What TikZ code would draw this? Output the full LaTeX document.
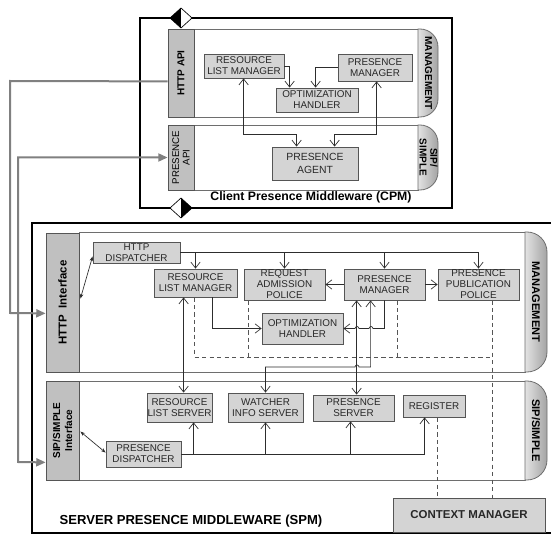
\documentclass[tikz,border=0pt]{standalone}
\usepackage{fontspec}
\setmainfont{Liberation Sans}
\usetikzlibrary{fit,calc,arrows.meta}
\definecolor{boxfill}{RGB}{212,212,212}
\definecolor{boxline}{RGB}{85,85,85}
\definecolor{barfill}{RGB}{192,192,192}
\definecolor{panelline}{RGB}{110,110,110}
\definecolor{lncol}{RGB}{45,45,45}
\definecolor{dashcol}{RGB}{85,85,85}
\definecolor{garrcol}{RGB}{128,128,128}
\definecolor{txt}{RGB}{40,40,40}
\newcommand{\mybox}[5][]{\node[box,fit={(#3) (#4)}] (#2) {};
  \node[btext,#1] (#2t) at (#2.center) {#5};}
\begin{document}
\begin{tikzpicture}[x=0.75pt,y=-0.75pt,
  box/.style={draw=boxline, fill=boxfill, inner sep=0pt, line width=0.6pt},
  btext/.style={inner sep=0pt, align=center, text=txt, font=\fontsize{7.4}{8.3}\selectfont},
  bar/.style={draw=boxline, fill=barfill, inner sep=0pt, line width=0.6pt},
  panel/.style={draw=panelline, fill=white, inner sep=0pt, line width=0.6pt},
  endcap/.style={draw=panelline, line width=0.6pt, left color=gray!22, right color=gray!72},
  frame/.style={draw=black, line width=2pt},
  conn/.style={draw=lncol, line width=0.5pt},
  arr/.style={conn, -{Straight Barb[length=4.5pt,width=7pt]}},
  darr/.style={conn, {Straight Barb[length=4.5pt,width=7pt]}-{Straight Barb[length=4.5pt,width=7pt]}},
  sarr/.style={conn, {Stealth[length=3.5pt,width=2.6pt]}-{Stealth[length=3.5pt,width=2.6pt]}},
  dsh/.style={draw=dashcol, line width=0.6pt, dash pattern=on 3.2pt off 2.4pt},
  garr/.style={draw=garrcol, line width=1.5pt, -{Triangle[length=7pt,width=6pt]}},
  gdarr/.style={draw=garrcol, line width=1.5pt, {Triangle[length=7pt,width=6pt]}-{Triangle[length=7pt,width=6pt]}},
  captxt/.style={inner sep=0pt, align=center, text=black, font=\bfseries\fontsize{7.5}{8}\selectfont},
]
\useasboundingbox (0,0) rectangle (551,535);

% ---------------- CPM ----------------
\node[frame, fit={(140,18) (452,208)}, inner sep=0pt] (cpm) {};
\node[font=\bfseries\fontsize{9.2}{10}\selectfont] (cpmtitle) at (311,197) {Client Presence Middleware (CPM)};

\node[panel, fit={(194,29) (418,117)}] (cpmmgmt) {};
\path[endcap] (418,29) -- (420,29) arc[start angle=90,end angle=0,radius=13.5pt] -- (438,99)
  arc[start angle=0,end angle=-90,radius=13.5pt] -- (418,117) -- cycle;
\node[captxt, rotate=-90] (cpmmgmtlbl) at (428.5,73) {MANAGEMENT};
\node[bar, fit={(168,29) (194,117)}] (httpapi) {};
\node[captxt, rotate=90] (httpapilbl) at (httpapi.center) {HTTP API};

\node[panel, fit={(194,125) (418,190)}] (cpmsip) {};
\path[endcap] (418,125) -- (420,125) arc[start angle=90,end angle=0,radius=13.5pt] -- (438,172)
  arc[start angle=0,end angle=-90,radius=13.5pt] -- (418,190) -- cycle;
\node[captxt, rotate=-90] (cpmsiplbl) at (428.5,157.5) {SIP/\\SIMPLE};
\node[bar, fit={(168,125) (194,190)}] (presapi) {};
\node[inner sep=0pt, align=center, text=black, font=\fontsize{7.3}{8}\selectfont, rotate=90] (presapilbl) at (presapi.center) {PRESENCE\\API};

\mybox{crlm}{204,54}{284,78}{RESOURCE\\LIST MANAGER}
\mybox{cpmm}{338,54}{412,81}{PRESENCE\\MANAGER}
\mybox{coh}{276,88}{358,112}{OPTIMIZATION\\HANDLER}
\mybox[font=\fontsize{7.8}{9.5}\selectfont]{cpa}{272,147}{358,180}{PRESENCE\\AGENT}

\draw[arr] (crlm.east) -| ($(coh.north west)+(14,0)$);
\draw[arr] (cpmm.west) -| ($(coh.north west)+(40,0)$);
\draw[darr] ($(cpa.north west)+(25,0)$) -- ++(0,-12) -| ($(crlm.south west)+(40,0)$);
\draw[darr] ($(cpa.north west)+(63,0)$) -- ++(0,-12) -| ($(cpmm.south west)+(39,0)$);

% diamonds
\fill[black] (170,18) -- (181,8) -- (181,28) -- cycle;
\fill[white] (181,8) -- (192,18) -- (181,28) -- cycle;
\draw[line width=0.5pt] (170,18) -- (181,8) -- (192,18) -- (181,28) -- cycle;
\fill[white] (170,208) -- (181,198) -- (181,218) -- cycle;
\fill[black] (181,198) -- (192,208) -- (181,218) -- cycle;
\draw[line width=0.5pt] (170,208) -- (181,198) -- (192,208) -- (181,218) -- cycle;

% ---------------- SPM ----------------
\draw[frame] (555,223) -- (32,223) -- (32,533) -- (555,533);
\node[font=\bfseries\fontsize{9.8}{10}\selectfont] (spmtitle) at (191,521) {SERVER PRESENCE MIDDLEWARE (SPM)};

\node[panel, fit={(79,232) (525,372)}] (spmmgmt) {};
\path[endcap] (525,232) -- (527,232) arc[start angle=90,end angle=0,radius=15pt] -- (547,352)
  arc[start angle=0,end angle=-90,radius=15pt] -- (525,372) -- cycle;
\node[captxt, font=\bfseries\fontsize{8.3}{9}\selectfont, rotate=-90] (spmmgmtlbl) at (536,302) {MANAGEMENT};
\node[bar, fit={(46,233) (79,372)}] (httpif) {};
\node[captxt, font=\bfseries\fontsize{8.6}{9}\selectfont, rotate=90] (httpiflbl) at (httpif.center) {HTTP\ \ Interface};

\node[panel, fit={(79,381) (525,480)}] (spmsip) {};
\path[endcap] (525,381) -- (527,381) arc[start angle=90,end angle=0,radius=15pt] -- (547,460)
  arc[start angle=0,end angle=-90,radius=15pt] -- (525,480) -- cycle;
\node[captxt, font=\bfseries\fontsize{8.3}{9}\selectfont, rotate=-90] (spmsiplbl) at (536,430.5) {SIP/SIMPLE};
\node[bar, fit={(46,381) (79,480)}] (sipif) {};
\node[captxt, font=\bfseries\fontsize{7.5}{9}\selectfont, rotate=90] (sipiflbl) at (sipif.center) {SIP/SIMPLE\\Interface};

\mybox{hd}{93,242}{180,263}{HTTP\\DISPATCHER}
\mybox{srlm}{154,269}{237,297}{RESOURCE\\LIST MANAGER}
\mybox{rap}{244,269}{325,300}{REQUEST\\ADMISSION\\POLICE}
\mybox{spm}{344,269}{425,300}{PRESENCE\\MANAGER}
\mybox{ppp}{438,269}{519,300}{PRESENCE\\PUBLICATION\\POLICE}
\mybox{soh}{262,313}{343,344}{OPTIMIZATION\\HANDLER}
\mybox{rls}{147,393}{212,422}{RESOURCE\\LIST SERVER}
\mybox{wis}{228,393}{303,422}{WATCHER\\INFO SERVER}
\mybox{ps}{313,395}{394,421}{PRESENCE\\SERVER}
\mybox{reg}{403,395}{465,417}{REGISTER}
\mybox{pd}{106,441}{181,467}{PRESENCE\\DISPATCHER}
\node[box, fit={(393,498) (545,532)}] (cm) {};
\node[inner sep=0pt, text=txt, font=\bfseries\fontsize{8.6}{9}\selectfont] (cmt) at (cm.center) {CONTEXT MANAGER};

% gray external arrows
\draw[garr] ($(httpapi.south west)+(0,-36)$) -- (10,81) -- (10,313) -- ($(httpif.south west)+(0,-59)$);
\draw[gdarr] (presapi.west) -- (18,157.5) -- (18,462) -- ($(sipif.south west)+(0,-18)$);

% management connectors
\draw[sarr] ($(httpif.north east)+(1,66)$) -- ($(hd.south west)+(0,-7)$);
\draw[conn] (hd.east) -- (hd.east -| ppp.north);
\draw[arr] (srlm.north |- hd.east) -- (srlm.north);
\draw[arr] (rap.north |- hd.east) -- (rap.north);
\draw[arr] (spm.north |- hd.east) -- (spm.north);
\draw[arr] (ppp.north |- hd.east) -- (ppp.north);
\draw[arr] (spm.west) -- (rap.east);
\draw[arr] (spm.east) -- (ppp.west);
\draw[arr] ($(srlm.south west)+(59,0)$) |- (soh.west);
\draw[arr] (spm.south) |- (373,328.5) arc[start angle=0,end angle=180,radius=1.5pt]
  -- (359,328.5) arc[start angle=0,end angle=180,radius=1.5pt] -- (soh.east);

\coordinate (a13) at ($(srlm.south west)+(30,0)$);
\draw[darr] (a13) -- (a13 |- rls.north);
\coordinate (a14) at ($(spm.south west)+(13,0)$);
\draw[darr] (a14) -- (a14 |- ps.north);
\coordinate (a15) at ($(spm.south west)+(27,0)$);
\coordinate (h367) at (0,367);
\draw[darr] (a15) -- (a15 |- h367) -- (359,367) arc[start angle=0,end angle=180,radius=1.5pt]
  -- (wis.north |- h367) -- (wis.north);

% dashed links
\coordinate (dy) at (0,357);
\coordinate (d1) at ($(srlm.south west)+(41,0)$);
\coordinate (d5) at ($(ppp.south west)+(55,0)$);
\draw[dsh] (d1) |- (d5 |- dy);
\draw[dsh] (d5) -- (d5 |- cm.north);
\coordinate (d2) at ($(rap.south west)+(5,0)$);
\draw[dsh] (d2) -- (d2 |- dy);
\coordinate (d3) at ($(spm.south west)+(54,0)$);
\draw[dsh] (d3) -- (d3 |- dy);
\coordinate (d4) at ($(reg.south west)+(35,0)$);
\draw[dsh] (d4) -- (d4 |- cm.north);

% SIP connectors
\draw[sarr] ($(sipif.north east)+(1,51)$) -- ($(pd.north west)+(0,12)$);
\draw[arr] (pd.east) -| ($(reg.south west)+(22,0)$);
\coordinate (s1) at ($(rls.south west)+(47,0)$);
\draw[arr] (s1 |- pd.east) -- (s1);
\draw[arr] (wis.south |- pd.east) -- (wis.south);
\coordinate (s3) at ($(ps.south west)+(38,0)$);
\draw[arr] (s3 |- pd.east) -- (s3);
\end{tikzpicture}
\end{document}
